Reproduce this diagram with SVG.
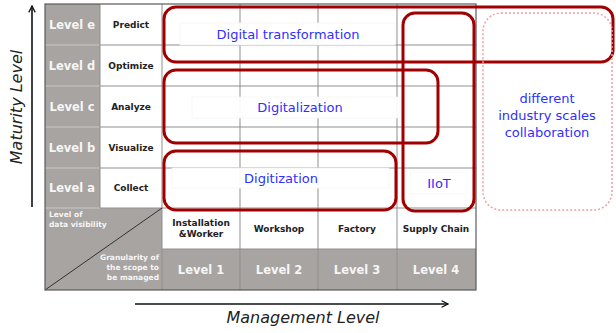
<svg xmlns="http://www.w3.org/2000/svg" width="616" height="333" viewBox="0 0 616 333">
  <style>
    .bg { fill: #ffffff; }
    .gray { fill: #a7a4a2; }
    .grid { stroke: #8f8f8f; stroke-width: 1; fill: none; }
    .gridg { stroke: #c9c7c6; stroke-width: 1; fill: none; }
    .border { stroke: #5a5a5a; stroke-width: 1.2; fill: none; }
    .lvl { font-family: "DejaVu Sans", Verdana, sans-serif; font-weight: bold; font-size: 11.5px; fill: #f6f6f6; text-anchor: middle; }
    .act { font-family: "DejaVu Sans", Verdana, sans-serif; font-weight: bold; font-size: 9px; fill: #222222; text-anchor: middle; }
    .small { font-family: "DejaVu Sans", Verdana, sans-serif; font-weight: bold; font-size: 7.5px; fill: #f6f6f6; }
    .zone { fill: none; stroke: #a00000; stroke-width: 3; }
    .dotted { fill: none; stroke: #f0a0a0; stroke-width: 1.5; stroke-dasharray: 2 2; }
    .lbl { font-family: "DejaVu Sans", Verdana, sans-serif; font-size: 13px; fill: #2f2fff; text-anchor: middle; }
    .lblbox { fill: #ffffff; fill-opacity: 0.92; stroke: #f6f6f6; stroke-width: 0.8; }
    .axis { font-family: "DejaVu Sans", Verdana, sans-serif; font-style: italic; font-size: 16px; fill: #222222; text-anchor: middle; }
    .arrow { stroke: #111111; stroke-width: 1.6; fill: none; marker-end: url(#head); }
  </style>
  <defs>
    <marker id="head" viewBox="0 0 10 10" refX="9" refY="5" markerWidth="8" markerHeight="8" markerUnits="userSpaceOnUse" orient="auto">
      <path d="M1,1 L9,5 L1,9" fill="none" stroke="#111111" stroke-width="1.6"/>
    </marker>
  </defs>

  <rect class="bg" x="0" y="0" width="616" height="333"/>

  <!-- table -->
  <g id="table">
    <rect class="gray" x="45" y="4" width="55" height="204"/>
    <rect class="gray" x="45" y="208" width="117" height="82"/>
    <rect class="gray" x="162" y="249" width="314" height="41"/>
    <!-- lines inside the gray label column -->
    <path class="gridg" d="M45,45 H100 M45,86 H100 M45,127 H100 M45,168 H100 M45,208 H100"/>
    <!-- lines over white area -->
    <path class="grid" d="M100,4 V208 M162,4 V290 M240,4 V290 M318,4 V290 M397,4 V290
                          M100,45 H476 M100,86 H476 M100,127 H476 M100,168 H476 M100,208 H476 M162,249 H476"/>
    <line x1="45" y1="290" x2="162" y2="208" stroke="#333333" stroke-width="1"/>
    <rect class="border" x="45" y="4" width="431" height="286"/>
  </g>

  <g id="maturity-labels">
    <text class="lvl" x="72" y="29">Level e</text>
    <text class="lvl" x="72" y="70">Level d</text>
    <text class="lvl" x="72" y="111">Level c</text>
    <text class="lvl" x="72" y="152">Level b</text>
    <text class="lvl" x="72" y="192">Level a</text>
    <text class="act" x="131" y="28">Predict</text>
    <text class="act" x="131" y="69">Optimize</text>
    <text class="act" x="131" y="110">Analyze</text>
    <text class="act" x="131" y="151">Visualize</text>
    <text class="act" x="131" y="191">Collect</text>
  </g>

  <g id="corner">
    <text class="small" x="49" y="217">Level of</text>
    <text class="small" x="49" y="227">data visibility</text>
    <text class="small" x="159" y="260" text-anchor="end">Granularity of</text>
    <text class="small" x="159" y="270" text-anchor="end">the scope to</text>
    <text class="small" x="159" y="280" text-anchor="end">be managed</text>
  </g>

  <g id="scope-labels">
    <text class="act" x="201" y="226">Installation</text>
    <text class="act" x="201" y="237">&amp;Worker</text>
    <text class="act" x="279" y="232">Workshop</text>
    <text class="act" x="357" y="232">Factory</text>
    <text class="act" x="436" y="232">Supply Chain</text>
    <text class="lvl" x="201" y="274">Level 1</text>
    <text class="lvl" x="279" y="274">Level 2</text>
    <text class="lvl" x="357" y="274">Level 3</text>
    <text class="lvl" x="436" y="274">Level 4</text>
  </g>

  <!-- zones -->
  <g id="digital-transformation">
    <rect class="zone" x="164" y="7" width="449" height="55" rx="12"/>
    <rect class="lblbox" x="180" y="23" width="215" height="22"/>
    <text class="lbl" x="288" y="39">Digital transformation</text>
  </g>
  <g id="digitalization">
    <rect class="zone" x="164" y="70" width="274" height="73" rx="12"/>
    <rect class="lblbox" x="192" y="97" width="208" height="21"/>
    <text class="lbl" x="300" y="112">Digitalization</text>
  </g>
  <g id="digitization">
    <rect class="zone" x="164" y="151" width="232" height="59" rx="12"/>
    <rect class="lblbox" x="172" y="168" width="217" height="20"/>
    <text class="lbl" x="281" y="183">Digitization</text>
  </g>
  <g id="iiot">
    <rect class="zone" x="403" y="13" width="71" height="198" rx="12"/>
    <rect class="lblbox" x="410" y="172" width="57" height="22"/>
    <text class="lbl" x="439" y="188">IIoT</text>
  </g>
  <g id="collaboration">
    <rect class="dotted" x="483" y="13" width="129" height="197" rx="18"/>
    <text class="lbl" x="547" y="103">different</text>
    <text class="lbl" x="547" y="120">industry scales</text>
    <text class="lbl" x="547" y="137">collaboration</text>
  </g>

  <!-- axes -->
  <g id="connectors">
    <line class="arrow" x1="32" y1="207" x2="32" y2="6"/>
    <line class="arrow" x1="135" y1="304" x2="448" y2="304"/>
  </g>
  <text class="axis" transform="translate(22,107) rotate(-90)">Maturity Level</text>
  <text class="axis" x="303" y="323">Management Level</text>
</svg>
